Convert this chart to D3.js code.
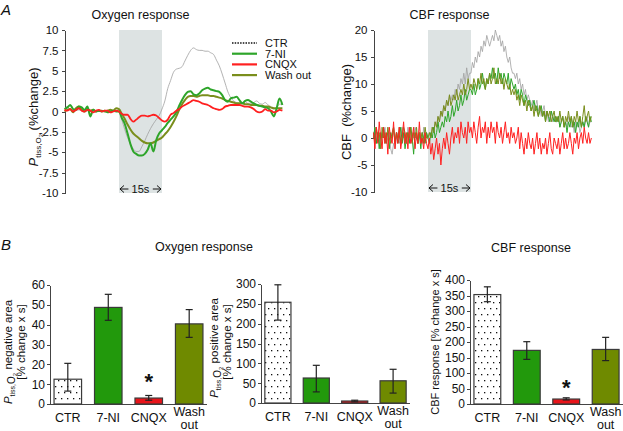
<!DOCTYPE html>
<html lang="en">
<head>
<meta charset="UTF-8">
<title>Oxygen and CBF response</title>
<script src="https://cdn.jsdelivr.net/npm/d3@7"></script>
<style>
  body { margin: 0; background: #fff; }
  svg { font-family: Arial, "Liberation Sans", sans-serif; fill: #111; }
  .axis path, .axis line { stroke: #444; shape-rendering: crispEdges; }
  .axis text { font-size: 11.5px; fill: #111; }
</style>
</head>
<body>
<svg id="fig" width="623" height="431"></svg>
<script>

// ---- panel A : time traces (t in s, stimulus at 0..15) ----
var tStart = -19;
var stim = [0, 15];

// oxygen, 1 s steps from -19 to 57
var oxyCTR = [0.3,0.6,0.2,0,0.1,0.2,0.1,0,0.1,0,0.2,0.1,0,0.1,0,0.1,0,0,0.1,
  0,-1.0,-2.2,-3.2,-4.0,-4.6,-4.9,-4.9,-4.3,-3.6,-2.8,-2.1,-1.5,-1.0,-0.5,
  0.3,1.3,2.8,3.8,4.8,5.2,5.3,5.5,6.2,6.9,7.5,7.8,7.6,7.5,7.5,7.4,
  7.4,7.2,7.0,6.3,5.6,4.6,3.5,2.4,1.7,1.3,1.1,1.0,1.1,1.2,1.0,1.0,1.1,1.3,1.0,0.9,1.1,0.8,0.6,0.3,0.5,0.9,0.9];
var oxy7NI = [0.3,0.5,0.8,0.3,0.2,0.6,0.5,0.2,0.6,-0.6,0.2,0,0.1,0,0.1,-0.1,0,0.1,0,
  0,-0.8,-1.5,-2.7,-4.0,-4.9,-5.2,-5.4,-5.4,-5.2,-4.7,-3.9,-4.9,-3.5,-2.7,
  -2.3,-1.9,-1.4,-1.0,-0.6,-0.1,0.7,1.4,2.0,2.4,2.5,2.1,2.0,2.2,2.6,2.8,
  2.9,2.7,2.6,2.5,2.4,2.0,1.4,1.2,1.6,1.7,1.8,1.4,1.0,1.3,1.4,1.2,1.0,0.8,0.7,0.6,0.5,0.4,0.0,-0.6,0.4,1.6,0.8];
var oxyCNQX = [0.2,0.1,0.3,0,0.2,0.4,0.1,0,0.2,0.1,-0.1,0.1,0.2,0,0.1,0.1,-0.1,0,0.1,
  0,-0.3,-0.4,-0.4,-0.9,-1.25,-1.0,-0.7,-0.5,-0.5,-0.6,-0.5,-0.4,-0.5,-0.8,
  -1.1,-1.25,-1.0,-0.4,-0.2,0.1,0.3,0.6,0.8,1.0,1.2,1.4,1.3,1.2,1.0,0.9,
  0.8,0.6,0.4,0.3,0.2,0.3,0.6,0.7,0.8,0.8,0.8,0.8,0.7,0.6,0.6,0.5,0.3,0,-0.1,0,0.3,0.1,0.1,-0.1,0,0.2,0.1];
var oxyWash = [0,0.2,0.3,-0.1,0.4,0.6,0.2,0,0.3,0.1,0.2,0,0.1,0.1,0,0.1,0.2,0.1,0.4,
  0.3,-0.3,-0.9,-1.6,-2.2,-2.7,-3.0,-3.3,-3.6,-3.8,-3.9,-3.9,-3.8,-3.6,-3.4,
  -3.2,-2.8,-2.4,-1.9,-1.3,-0.6,0.2,0.9,1.4,1.8,1.9,1.9,1.8,1.9,2.0,2.0,
  2.0,1.9,1.9,1.8,1.7,1.6,1.4,1.3,1.2,1.1,1.0,1.0,1.0,0.9,0.9,0.8,0.8,0.8,0.7,0.7,0.6,0.6,0.5,0.4,0.4,0.4,0.4];

// CBF, 0.5 s steps from -19 to 57
var cbfCTR = [0,2,-1,1,0,-2,1,0,2,-1,0,1,-2,-3,-1,-2,0,1,-1,0,2,0,1,-1,2,0,-1,1,0,2,1,-1,0,1,-1,2,0,1,
  0,1,0,2,1,3,2,4,3,5,4,6,5,7,6,8,7,8,7,9,8,10,9,11,10,12,10,13,11,12,
  12,14,13,15,14,16,15,17,16,18,17,19,18,17,18,19,18,20,19,18,19,17,18,16,17,15,14,15,13,12,
  12,11,12,10,11,9,10,8,9,7,8,7,6,7,5,6,7,5,6,4,5,6,4,5,3,4,5,3,4,3,
  3,4,2,3,4,2,3,2,4,3,2,3,1,3,2,3,1,2,3,2,3,4,2,3,3];
var cbf7NI = [0,2,-1,1,-2,1,0,2,-1,0,1,-2,1,0,2,-1,1,-1,0,2,-1,1,-2,0,1,-1,2,0,-3,1,0,-1,1,-2,1,0,-1,1,
  0,-1,1,0,2,0,1,3,1,2,3,2,4,3,5,3,4,6,4,5,7,5,6,8,6,7,9,7,8,9,
  9,8,10,8,9,11,9,10,12,10,9,11,10,12,11,13,11,12,10,13,11,12,10,12,11,10,12,9,11,10,
  9,10,8,9,7,9,8,6,8,7,6,7,5,6,7,5,6,4,5,6,4,5,3,5,4,3,5,4,3,4,
  3,4,2,3,4,2,3,1,3,2,4,2,3,1,3,2,4,2,3,2,4,3,2,4,3];
var cbfCNQX = [1,-2,2,-1,3,0,-2,2,-1,1,-3,2,0,-1,3,-2,1,-1,2,-2,0,3,-1,1,-2,2,-1,0,2,-2,1,-1,3,-1,0,-2,1,-1,
  -2,0,-3,-1,-4,-2,0,-3,-1,-5,-2,0,-2,1,-1,-3,0,2,-1,1,0,2,-1,3,1,0,2,-1,3,1,
  2,0,3,1,-1,2,4,0,2,1,3,-1,2,0,3,1,2,-1,3,1,0,2,-1,1,3,0,1,-1,2,0,
  1,-1,0,2,-2,1,-1,-3,0,-2,1,-1,-2,0,-3,-1,1,-2,0,-3,-1,-2,0,-3,-1,1,-2,-3,0,-1,
  -2,0,-3,-1,1,-2,0,-2,-1,1,-1,-3,0,-1,1,-2,0,1,-1,2,0,-1,1,-1,0];
var cbfWash = [1,-1,2,0,1,-2,2,0,1,-1,2,0,-1,1,2,-1,1,0,2,-1,0,2,1,-1,1,0,2,-1,1,0,2,-1,1,0,1,-1,2,0,
  0,1,0,2,1,3,2,4,3,5,4,6,5,7,6,8,6,7,8,7,9,7,8,9,8,10,8,9,11,9,
  10,9,11,10,9,11,10,12,10,11,9,11,10,12,10,11,13,10,11,10,12,10,11,9,11,10,9,10,8,9,
  8,9,7,8,6,8,7,6,7,5,7,6,5,6,4,6,5,4,6,5,4,5,3,5,4,5,3,4,5,3,
  4,3,5,3,4,2,4,3,5,3,4,2,4,3,5,3,4,2,4,6,3,4,5,3,4];

var traceNames = ["CTR", "7-NI", "CNQX", "Wash out"];
var oxyTicks = [10, 7.5, 5, 2.5, 0, -2.5, -5, -7.5, -10];
var cbfTicks = [20, 15, 10, 5, 0, -5, -10];

// ---- panel B : bar charts ----
var barCats = ["CTR", "7-NI", "CNQX", "Wash out"];
var negArea = [12.5, 48.7, 3, 40.4];
var negLo = [6.5, 42.2, 1.9, 33.6];
var negHi = [20.5, 55.3, 4.3, 47.6];
var posArea = [254, 63, 5, 56];
var posLo = [209, 28, 3, 25];
var posHi = [298, 95, 7, 85];
var cbfArea = [353, 173, 16, 176];
var cbfLo = [330, 144, 13, 140];
var cbfHi = [378, 201, 20, 215];
var signif = [false, false, true, false];

var green = "#22990c", olive = "#6f8a00", red = "#e8141a";
var traceCol = {"CTR": "#a0a0a0", "7-NI": "#2ea52a", "CNQX": "#ff2020", "Wash out": "#7a8e1c"};
var barCol = ["url(#dots)", green, red, olive];

var svg = d3.select("#fig");

var defs = svg.append("defs");
var pat = defs.append("pattern").attr("id", "dots").attr("patternUnits", "userSpaceOnUse")
  .attr("width", 6).attr("height", 12);
pat.append("rect").attr("width", 6).attr("height", 12).attr("fill", "#fff");
pat.append("rect").attr("x", 1).attr("y", 2).attr("width", 1.3).attr("height", 1.3).attr("fill", "#111");
pat.append("rect").attr("x", 4).attr("y", 8).attr("width", 1.3).attr("height", 1.3).attr("fill", "#111");

// panel letters
svg.append("text").attr("x", 1).attr("y", 15).attr("font-size", 15).attr("font-style", "italic").text("A");
svg.append("text").attr("x", 1).attr("y", 250).attr("font-size", 15).attr("font-style", "italic").text("B");

function tracePanel(o) {
  var g = svg.append("g");
  var x = d3.scaleLinear().domain([-19, 57]).range([o.x0, o.x1]);
  var y = d3.scaleLinear().domain(o.yDom).range([o.yBot, o.yTop]);

  g.append("rect").attr("x", x(stim[0])).attr("width", x(stim[1]) - x(stim[0]))
    .attr("y", o.yTop).attr("height", o.yBot - o.yTop).attr("fill", "#dde3e3");

  g.append("g").attr("class", "axis").attr("transform", "translate(" + o.x0 + ",0)")
    .call(d3.axisLeft(y).tickValues(o.ticks).tickSize(3).tickSizeOuter(0).tickPadding(3)
      .tickFormat(function(d) { return String(d); }));

  g.append("text").attr("x", x(7.5)).attr("y", 19).attr("text-anchor", "middle")
    .attr("font-size", 12.5).text(o.title);

  o.series.forEach(function(s) {
    var line = d3.line()
      .x(function(d, i) { return x(tStart + i * s.step); })
      .y(function(d) { return y(d); })
      .curve(s.step === 1 ? d3.curveMonotoneX : d3.curveLinear);
    g.append("path").datum(s.values).attr("fill", "none")
      .attr("stroke", traceCol[s.name]).attr("stroke-width", s.w)
      .attr("stroke-linejoin", "round").attr("d", line);
  });

  // 15 s marker
  var ay = o.yBot - 4;
  var ag = g.append("g").attr("stroke", "#111").attr("stroke-width", 1).attr("fill", "none");
  ag.append("line").attr("x1", x(0) + 1).attr("x2", x(3.3)).attr("y1", ay).attr("y2", ay);
  ag.append("line").attr("x1", x(11.8)).attr("x2", x(15) - 1).attr("y1", ay).attr("y2", ay);
  ag.append("path").attr("d", "M" + (x(0) + 5) + "," + (ay - 3.5) + "L" + (x(0) + 1) + "," + ay + "L" + (x(0) + 5) + "," + (ay + 3.5));
  ag.append("path").attr("d", "M" + (x(15) - 5) + "," + (ay - 3.5) + "L" + (x(15) - 1) + "," + ay + "L" + (x(15) - 5) + "," + (ay + 3.5));
  g.append("text").attr("x", x(7.5)).attr("y", ay + 4).attr("text-anchor", "middle")
    .attr("font-size", 11).text("15s");
  return g;
}

var oxyPanel = tracePanel({
  x0: 64.5, x1: 282.4, yTop: 30, yBot: 193, yDom: [-10, 10], ticks: oxyTicks,
  title: "Oxygen response",
  series: [
    {name: "CTR", values: oxyCTR, step: 1, w: 0.8},
    {name: "Wash out", values: oxyWash, step: 1, w: 2},
    {name: "7-NI", values: oxy7NI, step: 1, w: 2},
    {name: "CNQX", values: oxyCNQX, step: 1, w: 1.8}
  ]
});
var cbfPanel = tracePanel({
  x0: 373.5, x1: 591.4, yTop: 30, yBot: 192, yDom: [-10, 20], ticks: cbfTicks,
  title: "CBF response",
  series: [
    {name: "CTR", values: cbfCTR, step: 0.5, w: 0.8},
    {name: "7-NI", values: cbf7NI, step: 0.5, w: 1},
    {name: "Wash out", values: cbfWash, step: 0.5, w: 1},
    {name: "CNQX", values: cbfCNQX, step: 0.5, w: 1}
  ]
});

// oxygen y label
var ol = oxyPanel.append("text").attr("transform", "translate(38,117) rotate(-90)")
  .attr("text-anchor", "middle").attr("font-size", 13);
ol.append("tspan").attr("font-style", "italic").text("P");
ol.append("tspan").attr("font-size", 8).attr("dy", 3).text("tiss,O");
ol.append("tspan").attr("font-size", 6).attr("dy", 2).text("2");
ol.append("tspan").attr("dy", -5).text(" (%change)");

cbfPanel.append("text").attr("transform", "translate(351,112) rotate(-90)")
  .attr("text-anchor", "middle").attr("font-size", 13).attr("xml:space", "preserve")
  .text("CBF  (%change)");

// legend
var leg = svg.append("g").attr("font-size", 11);
traceNames.forEach(function(n, i) {
  var ly = 43 + i * 10.7;
  leg.append("line").attr("x1", 232).attr("x2", 257).attr("y1", ly).attr("y2", ly)
    .attr("stroke", n === "CTR" ? "#111" : traceCol[n])
    .attr("stroke-width", n === "CTR" ? 1.5 : 2.2)
    .attr("stroke-dasharray", n === "CTR" ? "1.5,1.2" : null);
  leg.append("text").attr("x", 265).attr("y", ly + 4).text(n);
});

// bar charts
svg.append("text").attr("x", 204).attr("y", 251).attr("text-anchor", "middle")
  .attr("font-size", 12.5).text("Oxygen response");
svg.append("text").attr("x", 531).attr("y", 252).attr("text-anchor", "middle")
  .attr("font-size", 12.5).text("CBF response");

function barChart(o) {
  var g = svg.append("g");
  var x = d3.scaleBand().domain(barCats).range([o.x0, o.x1]).paddingInner(0.32).paddingOuter(0.1);
  var y = d3.scaleLinear().domain([0, o.max]).range([o.yBot, o.yTop]);

  g.append("g").attr("class", "axis").attr("transform", "translate(" + o.x0 + ",0)")
    .call(d3.axisLeft(y).ticks(o.max / o.step).tickSize(3).tickSizeOuter(0).tickPadding(2))
    .selectAll("text").style("font-size", "12px");
  g.append("line").attr("x1", o.x0).attr("x2", o.x1).attr("y1", o.yBot + 0.5).attr("y2", o.yBot + 0.5)
    .attr("stroke", "#444");

  g.selectAll("rect.bar").data(o.vals).enter().append("rect").attr("class", "bar")
    .attr("x", function(d, i) { return x(barCats[i]); })
    .attr("width", x.bandwidth())
    .attr("y", function(d) { return y(d); })
    .attr("height", function(d) { return o.yBot - y(d); })
    .attr("fill", function(d, i) { return barCol[i]; })
    .attr("stroke", "#3a3a3a").attr("stroke-width", 1.2);

  var eg = g.append("g").attr("stroke", "#222").attr("stroke-width", 1.2);
  o.vals.forEach(function(d, i) {
    var cx = x(barCats[i]) + x.bandwidth() / 2;
    eg.append("line").attr("x1", cx).attr("x2", cx).attr("y1", y(o.lo[i])).attr("y2", y(o.hi[i]));
    [o.lo[i], o.hi[i]].forEach(function(v) {
      eg.append("line").attr("x1", cx - 3.5).attr("x2", cx + 3.5).attr("y1", y(v)).attr("y2", y(v));
    });
    if (o.star && signif[i]) {
      g.append("text").attr("x", cx).attr("y", y(o.hi[i]) - o.starGap).attr("text-anchor", "middle")
        .attr("font-size", 22).attr("font-weight", "bold").text("*");
    }
  });

  barCats.forEach(function(c) {
    var cx = x(c) + x.bandwidth() / 2;
    var parts = c.split(" ");
    var t = g.append("text").attr("text-anchor", "middle").attr("font-size", 12.5);
    if (parts.length === 1) {
      t.attr("x", cx).attr("y", o.yBot + 18).text(c);
    } else {
      t.attr("x", cx).attr("y", o.yBot + 12).text(parts[0]);
      g.append("text").attr("text-anchor", "middle").attr("font-size", 12.5)
        .attr("x", cx).attr("y", o.yBot + 25).text(parts[1]);
    }
  });
  return g;
}

var b1 = barChart({x0: 50, x1: 207, yTop: 285, yBot: 404, max: 60, step: 10,
  vals: negArea, lo: negLo, hi: negHi, star: true, starGap: 6});
var b2 = barChart({x0: 261, x1: 410, yTop: 284, yBot: 403, max: 300, step: 50,
  vals: posArea, lo: posLo, hi: posHi, star: false});
var b3 = barChart({x0: 470, x1: 623, yTop: 280, yBot: 404, max: 400, step: 50,
  vals: cbfArea, lo: cbfLo, hi: cbfHi, star: true, starGap: 3});

function ptissLabel(g, bx, cy, rest) {
  var t = g.append("text").attr("transform", "translate(" + bx + "," + cy + ") rotate(-90)")
    .attr("text-anchor", "middle").attr("font-size", 11.5);
  t.append("tspan").attr("font-style", "italic").text("P");
  t.append("tspan").attr("font-size", 7).attr("dy", 2.5).text("tiss,");
  t.append("tspan").attr("font-size", 10).text("O");
  t.append("tspan").attr("font-size", 6).attr("dy", 2).text("2");
  t.append("tspan").attr("dy", -4.5).text(rest);
}
ptissLabel(b1, 12, 352, " negative area");
b1.append("text").attr("transform", "translate(25,342) rotate(-90)").attr("text-anchor", "middle")
  .attr("font-size", 11.5).text("[% change x s]");
ptissLabel(b2, 218, 348, " positive area");
b2.append("text").attr("transform", "translate(231,342) rotate(-90)").attr("text-anchor", "middle")
  .attr("font-size", 11.5).text("[% change x s]");
b3.append("text").attr("transform", "translate(439,342) rotate(-90)").attr("text-anchor", "middle")
  .attr("font-size", 11).text("CBF response [% change x s]");

</script>
</body>
</html>
